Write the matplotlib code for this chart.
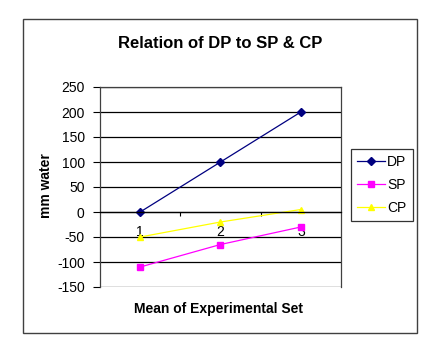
import matplotlib
matplotlib.use("Agg")
import matplotlib.pyplot as plt
from matplotlib.patches import Rectangle

categories = ["1", "2", "3"]
dp = [0, 100, 200]
sp = [-110, -65, -30]
cp = [-50, -20, 5]
yticks = [-150, -100, -50, 0, 50, 100, 150, 200, 250]

plt.rcParams['font.family'] = ['Liberation Sans', 'DejaVu Sans']

W, H = 442, 346
fig = plt.figure(figsize=(W/100, H/100), dpi=100)
fig.patch.set_facecolor('white')

# outer chart border
fig.patches.append(Rectangle((23/W, 1-333/H), (417-23)/W, (333-19)/H,
                             transform=fig.transFigure, fill=False,
                             edgecolor='#404040', linewidth=1.0))

ax = fig.add_axes([100/W, 1-287/H, (341-100)/W, (287-87)/H])
x = list(range(len(categories)))
ax.plot(x, dp, color='#000080', marker='D', markersize=4, linewidth=0.9, label='DP')
ax.plot(x, sp, color='#FF00FF', marker='s', markersize=4.5, linewidth=0.9, label='SP')
ax.plot(x, cp, color='#FFFF00', marker='^', markersize=5, linewidth=0.9, label='CP')

ax.set_xlim(-0.5, len(categories) - 0.5)
ax.set_ylim(-150, 250)
ax.set_yticks(yticks)
ax.set_yticklabels([str(v) for v in yticks], fontsize=10)
for v in yticks:
    ax.axhline(v, color='black', linewidth=0.9, zorder=0)

ax.spines['bottom'].set_position(('data', 0))
for s in ['top', 'right', 'left']:
    ax.spines[s].set_color('#404040')
    ax.spines[s].set_linewidth(0.9)
ax.spines['bottom'].set_color('black')
ax.spines['bottom'].set_linewidth(0.9)

ax.set_xticks([i + 0.5 for i in range(len(categories) - 1)])
ax.set_xticklabels([])
ax.tick_params(axis='x', which='major', direction='out', length=3, width=0.8)
ax.set_xticks(x, minor=True)
ax.set_xticklabels(categories, minor=True, fontsize=10)
ax.tick_params(axis='x', which='minor', length=0, pad=9)
ax.tick_params(axis='y', direction='out', length=5, width=0.8, pad=6)

fig.text(220/W, 1-44/H, "Relation of DP to SP & CP", ha='center', va='center',
         fontsize=12, fontweight='bold')
fig.text(219/W, 1-309/H, "Mean of Experimental Set", ha='center', va='center',
         fontsize=10, fontweight='bold')
fig.text(46/W, 1-186/H, "mm water", ha='center', va='center', rotation=90,
         fontsize=10, fontweight='bold')

leg = ax.legend(loc='center left', bbox_to_anchor=(351/W, 1-185/H),
                bbox_transform=fig.transFigure, frameon=True, fancybox=False,
                fontsize=10, handlelength=2.0, borderpad=0.45, labelspacing=0.65,
                handletextpad=0.15, borderaxespad=0)
leg.get_frame().set_edgecolor('black')
leg.get_frame().set_linewidth(0.9)

fig.savefig("out.png", dpi=100, facecolor='white')
